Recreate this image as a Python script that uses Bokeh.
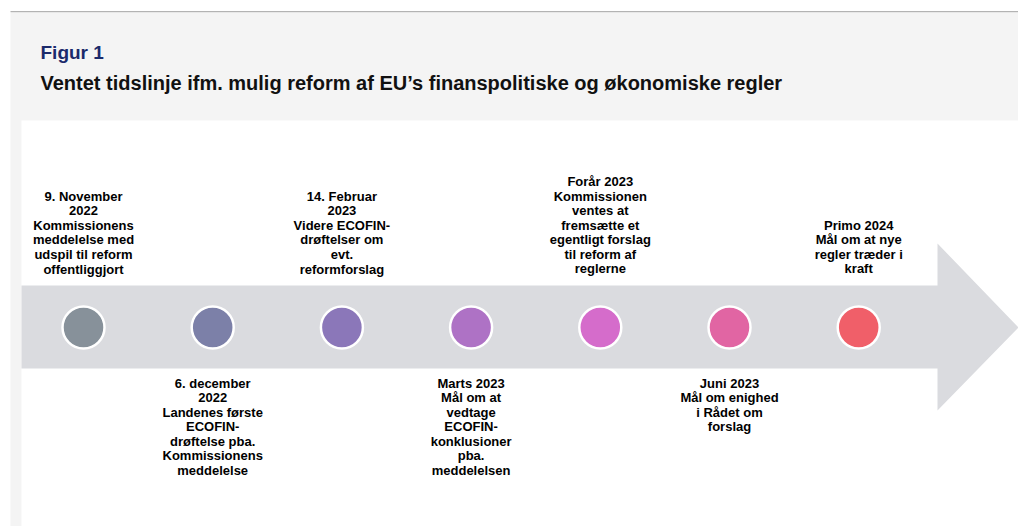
from bokeh.plotting import figure
from bokeh.models import Range1d, ColumnDataSource
from bokeh.core.properties import value
from bokeh.embed import file_html
from bokeh.resources import INLINE

# ---- data ----
fig_label = "Figur 1"
title = "Ventet tidslinje ifm. mulig reform af EU\u2019s finanspolitiske og økonomiske regler"

dates = [
    "9. November\n2022",
    "6. december\n2022",
    "14. Februar\n2023",
    "Marts 2023",
    "Forår 2023",
    "Juni 2023",
    "Primo 2024",
]
descriptions = [
    "Kommissionens\nmeddelelse med\nudspil til reform\noffentliggjort",
    "Landenes første\nECOFIN-\ndrøftelse pba.\nKommissionens\nmeddelelse",
    "Videre ECOFIN-\ndrøftelser om\nevt.\nreformforslag",
    "Mål om at\nvedtage\nECOFIN-\nkonklusioner\npba.\nmeddelelsen",
    "Kommissionen\nventes at\nfremsætte et\negentligt forslag\ntil reform af\nreglerne",
    "Mål om enighed\ni Rådet om\nforslag",
    "Mål om at nye\nregler træder i\nkraft",
]
colors = ["#87919a", "#7c80a8", "#8b77b9", "#ae72c5", "#d56ccb", "#e165a3", "#f05f69"]
placement = ["above", "below", "above", "below", "above", "below", "above"]

# ---- layout (pixel-like data coordinates) ----
W, H = 1018, 526
p = figure(width=W, height=H, x_range=Range1d(0, W), y_range=Range1d(H, 0),
           output_backend="svg", toolbar_location=None, min_border=0,
           x_axis_type=None, y_axis_type=None)
p.grid.visible = False
p.outline_line_color = None
p.background_fill_color = "white"
p.border_fill_color = "white"

# background panels
p.quad(left=10, right=W, top=12, bottom=H, fill_color="#f4f4f4", line_color=None)
p.quad(left=10, right=W, top=10.6, bottom=11.8, fill_color="#b3b3b3", line_color=None)
p.quad(left=21, right=W, top=120, bottom=H, fill_color="white", line_color=None)

# arrow
cy = 327
p.patch(x=[21, 937, 937, 1018, 937, 937, 21],
        y=[cy - 42, cy - 42, cy - 84, cy, cy + 83, cy + 41, cy + 41],
        fill_color="#dadbdf", line_color=None)

# titles
p.text(x=[40], y=[52], text=[fig_label], text_font=value("Liberation Sans"),
       text_font_style="bold", text_font_size="19px", text_color="#1b2a6b",
       text_baseline="middle", text_align="left")
p.text(x=[40], y=[82], text=[title], text_font=value("Liberation Sans"),
       text_font_style="bold", text_font_size="20px", text_color="#111111",
       text_baseline="middle", text_align="left")

# events
x0, step = 83, 129.2
xs = [x0 + i * step for i in range(len(dates))]
labels = [d + "\n" + t for d, t in zip(dates, descriptions)]

above = ColumnDataSource(dict(
    x=[x for x, pl in zip(xs, placement) if pl == "above"],
    text=[l for l, pl in zip(labels, placement) if pl == "above"],
    y=[276] * placement.count("above")))
below = ColumnDataSource(dict(
    x=[x for x, pl in zip(xs, placement) if pl == "below"],
    text=[l for l, pl in zip(labels, placement) if pl == "below"],
    y=[375] * placement.count("below")))

for src, base in ((above, "bottom"), (below, "top")):
    p.text(x="x", y="y", text="text", source=src, text_font=value("Liberation Sans"),
           text_font_style="bold", text_font_size="13px", text_color="black",
           text_align="center", text_baseline=base, text_line_height=0.97)

p.scatter(x=xs, y=[cy] * len(xs), size=42, fill_color=colors,
          line_color="white", line_width=2.5)

open("out.html", "w").write(file_html(p, INLINE))
